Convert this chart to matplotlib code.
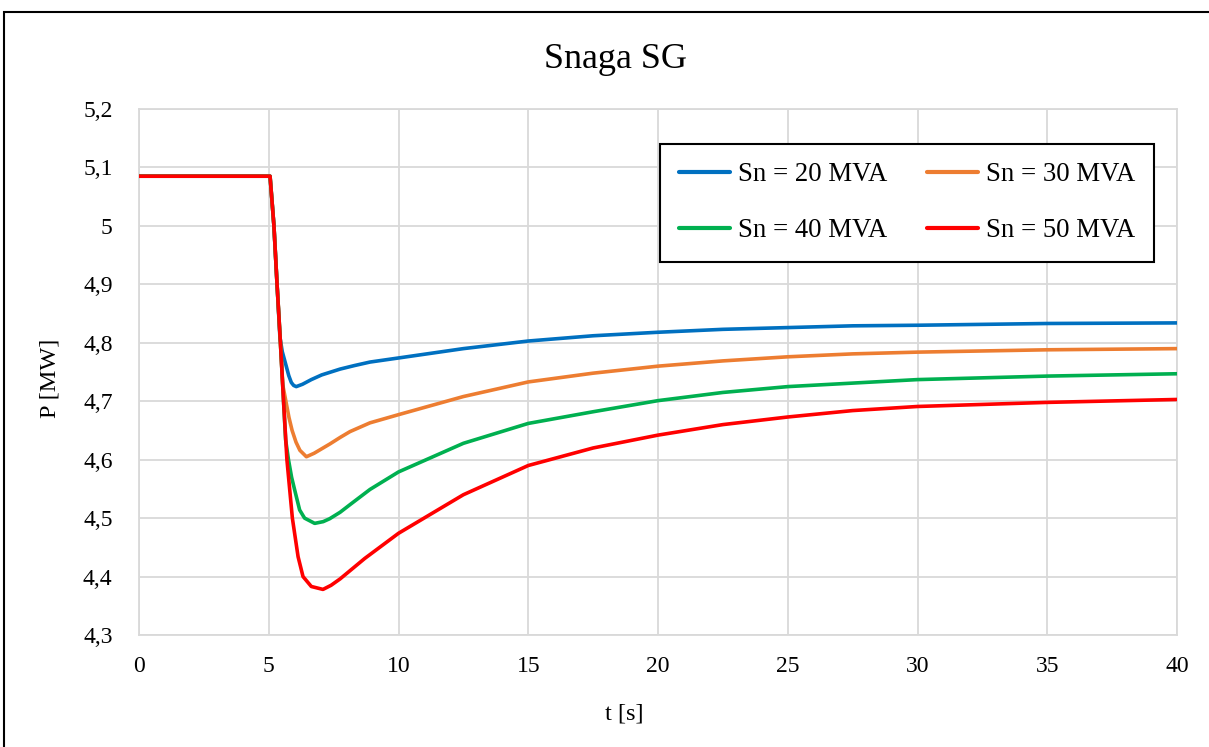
import matplotlib
matplotlib.use("Agg")
import matplotlib.pyplot as plt
from matplotlib.patches import Rectangle

# ---- data ----
t_20 = [0, 5.05, 5.2, 5.32, 5.43, 5.52, 5.6, 5.68, 5.77, 5.87, 5.96, 6.06, 6.3, 6.64, 7.04, 7.75, 8.3, 8.9, 10,
        12.5, 15, 17.5, 20, 22.5, 25, 27.5, 30, 35, 40]
p_20 = [5.085, 5.085, 5.0, 4.9, 4.81, 4.785, 4.772, 4.759, 4.744, 4.732, 4.727, 4.725, 4.729, 4.737, 4.745, 4.755, 4.761, 4.767, 4.774,
        4.790, 4.803, 4.812, 4.818, 4.823, 4.826, 4.829, 4.830, 4.833, 4.834]

t_30 = [0, 5.05, 5.2, 5.32, 5.45, 5.54, 5.66, 5.78, 5.9, 6.05, 6.2, 6.45, 6.75, 7.36, 7.75, 8.13, 8.9, 10,
        12.5, 15, 17.5, 20, 22.5, 25, 27.5, 30, 35, 40]
p_30 = [5.085, 5.085, 5.0, 4.9, 4.8, 4.728, 4.700, 4.672, 4.650, 4.630, 4.616, 4.605, 4.611, 4.627, 4.638, 4.648, 4.663, 4.677,
        4.708, 4.733, 4.748, 4.760, 4.769, 4.776, 4.781, 4.784, 4.788, 4.790]

t_40 = [0, 5.05, 5.2, 5.32, 5.45, 5.57, 5.65, 5.76, 5.88, 6.0, 6.19, 6.38, 6.77, 7.1, 7.35, 7.75, 8.13, 8.9, 10,
        12.5, 15, 17.5, 20, 22.5, 25, 27.5, 30, 35, 40]
p_40 = [5.085, 5.085, 5.0, 4.9, 4.8, 4.7, 4.634, 4.600, 4.570, 4.548, 4.514, 4.500, 4.491, 4.494, 4.499, 4.510, 4.523, 4.549, 4.579,
        4.628, 4.662, 4.682, 4.701, 4.715, 4.725, 4.731, 4.737, 4.743, 4.747]

t_50 = [0, 5.05, 5.2, 5.32, 5.45, 5.57, 5.70, 5.91, 6.13, 6.32, 6.64, 7.09, 7.4, 7.75, 8.13, 8.7, 10,
        12.5, 15, 17.5, 20, 22.5, 25, 27.5, 30, 35, 40]
p_50 = [5.085, 5.085, 5.0, 4.9, 4.8, 4.7, 4.6, 4.5, 4.434, 4.400, 4.383, 4.378, 4.385, 4.396, 4.410, 4.431, 4.474,
        4.540, 4.590, 4.620, 4.642, 4.660, 4.673, 4.684, 4.691, 4.698, 4.703]

labels = ["Sn = 20 MVA", "Sn = 30 MVA", "Sn = 40 MVA", "Sn = 50 MVA"]
colors = ["#0070C0", "#ED7D31", "#00B050", "#FF0000"]

x_ticks = [0, 5, 10, 15, 20, 25, 30, 35, 40]
x_tick_labels = ["0", "5", "10", "15", "20", "25", "30", "35", "40"]
y_ticks = [4.3, 4.4, 4.5, 4.6, 4.7, 4.8, 4.9, 5.0, 5.1, 5.2]
y_tick_labels = ["4,3", "4,4", "4,5", "4,6", "4,7", "4,8", "4,9", "5", "5,1", "5,2"]

title = "Snaga SG"
x_label = "t [s]"
y_label = "P [MW]"

# ---- figure ----
plt.rcParams['font.family'] = ['Liberation Serif', 'DejaVu Serif']
W, H = 1209, 747
fig = plt.figure(figsize=(W / 100, H / 100), dpi=100)
fig.patch.set_facecolor("white")

ax = fig.add_axes([139 / W, 1 - 635 / H, (1177 - 139) / W, (635 - 109) / H])

series = [(t_20, p_20), (t_30, p_30), (t_40, p_40), (t_50, p_50)]
handles = []
for (tt, pp), lab, col in zip(series, labels, colors):
    h, = ax.plot(tt, pp, color=col, lw=2.6, label=lab, solid_joinstyle="round",
                 solid_capstyle="round", zorder=3)
    handles.append(h)

ax.set_xlim(0, 40)
ax.set_ylim(4.3, 5.2)
ax.set_xticks(x_ticks)
ax.set_xticklabels(x_tick_labels)
ax.set_yticks(y_ticks)
ax.set_yticklabels(y_tick_labels)
ax.tick_params(axis="both", length=0, labelsize=17, colors="black")
ax.tick_params(axis="y", pad=19)
ax.tick_params(axis="x", pad=15)
ax.grid(True, color="#D9D9D9", lw=1.3, zorder=0)
ax.set_axisbelow(True)
for s in ax.spines.values():
    s.set_color("#D9D9D9")
    s.set_linewidth(1.3)

# row-wise legend order (20, 30 / 40, 50)
order = [0, 2, 1, 3]
leg = ax.legend([handles[i] for i in order], [labels[i] for i in order], ncol=2, loc="center",
                bbox_to_anchor=(0.501, 0.711, 0.478, 0.221),
                fontsize=19.3, frameon=True, fancybox=False, edgecolor="black",
                handlelength=1.9, handletextpad=0.3, columnspacing=1.5, labelspacing=1.15,
                borderpad=0.7)
leg.get_frame().set_linewidth(1.5)
leg.get_frame().set_alpha(1)
for lh in leg.get_lines():
    lh.set_linewidth(3.0)

fig.text(615 / W, 1 - 68 / H, title, ha="center", va="baseline", fontsize=26)
fig.text(624 / W, 1 - 714 / H, x_label, ha="center", va="center", fontsize=17.5)
fig.text(50 / W, 1 - 378 / H, y_label, ha="center", va="center", rotation=90, fontsize=17.5)

# outer chart border (extends past right/bottom edge)
fig.patches.append(Rectangle((4 / W, -0.2), 1.5, 1.2 - 12 / H, transform=fig.transFigure,
                             fill=False, edgecolor="black", lw=1.5, zorder=10))

fig.savefig("out.png", dpi=100)
